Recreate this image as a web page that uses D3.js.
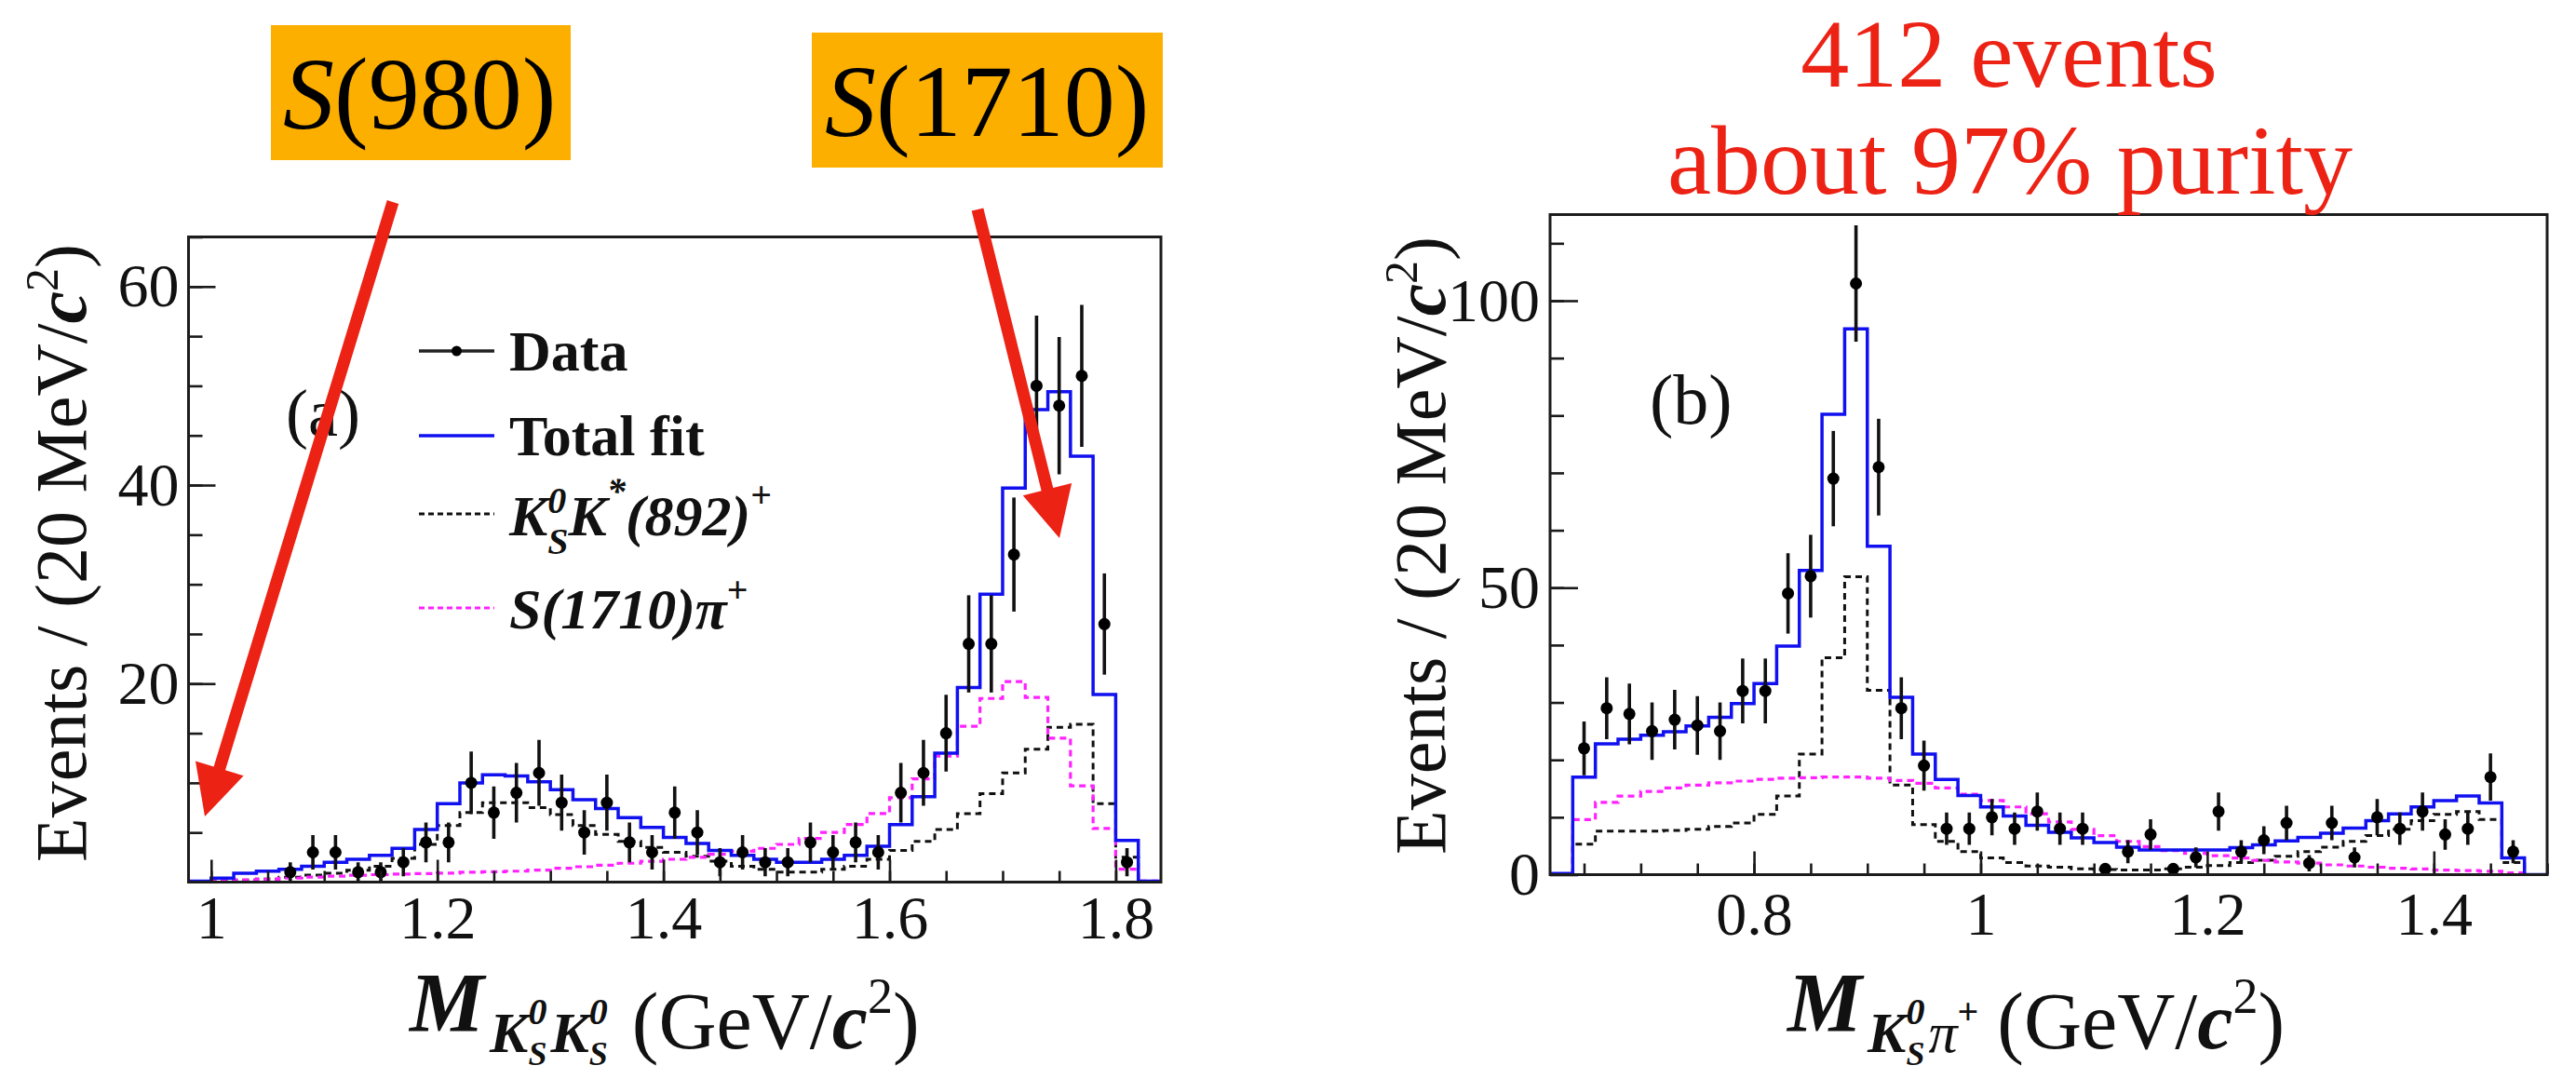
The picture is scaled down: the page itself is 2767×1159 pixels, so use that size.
<!DOCTYPE html>
<html>
<head>
<meta charset="utf-8">
<script src="https://cdn.jsdelivr.net/npm/d3@7"></script>
<style>
  html, body { margin: 0; padding: 0; background: #ffffff; }
  svg { display: block; }
  text { font-family: "Liberation Serif", "Times New Roman", serif; }
</style>
</head>
<body>
<svg id="fig" width="2767" height="1159"></svg>
<script>
// ---------------- (a) M(KS KS), 20 MeV bins from 0.98 GeV/c^2 ----------------
const binWidth = 0.02;
const massRangeA = [0.98, 1.84];
const countsA = [0, 0, 0, 0, 1, 3, 3, 1, 1, 2, 4, 4, 10, 7, 9, 11, 8, 5, 8, 4, 3, 7,
  5, 2, 3, 2, 2, 4, 3, 4, 3, 9, 11, 15, 24, 24, 33, 50, 48, 51, 26, 2, 0];
const totalFitA = [0.1, 0.4, 0.9, 1.1, 1.3, 1.6, 2.0, 2.3, 2.7, 3.4, 5.3, 7.9, 10.0, 10.8,
  10.7, 10.1, 9.3, 8.3, 7.4, 6.5, 5.5, 4.5, 3.9, 3.2, 2.7, 2.3, 2.0, 2.0, 2.3, 2.7, 3.6,
  5.8, 8.6, 13.0, 19.6, 29.0, 39.7, 47.6, 49.4, 42.9, 18.9, 4.2, 0.1];
const kstarFitA = [0.05, 0.1, 0.2, 0.3, 0.5, 0.7, 0.9, 1.2, 1.6, 2.4, 3.8, 5.7, 7.0, 8.0,
  8.0, 7.5, 6.8, 5.7, 4.8, 4.1, 3.5, 3.0, 2.6, 2.1, 1.6, 1.3, 1.0, 1.0, 1.3, 1.6, 2.3,
  3.2, 4.1, 5.3, 6.9, 8.9, 11.0, 13.4, 15.6, 15.9, 7.9, 2.5, 0];
const s1710FitA = [0.05, 0.1, 0.2, 0.3, 0.4, 0.5, 0.6, 0.7, 0.75, 0.8, 0.85, 0.9, 1.0, 1.05,
  1.1, 1.2, 1.4, 1.55, 1.7, 1.9, 2.1, 2.3, 2.5, 2.8, 3.1, 3.4, 3.8, 4.4, 5.0, 5.8, 6.9,
  8.5, 10.4, 12.7, 15.7, 18.5, 20.2, 18.6, 14.5, 9.7, 5.4, 1.3, 0.1];
const xTickLabelsA = [1.0, 1.2, 1.4, 1.6, 1.8];
const yTickLabelsA = [20, 40, 60];
const yRangeA = [0, 65];

// ---------------- (b) M(KS pi+), 20 MeV bins from 0.62 GeV/c^2 ----------------
const massRangeB = [0.62, 1.50];
const countsB = [0, 22, 29, 28, 25, 27, 26, 25, 32, 32, 49, 52, 69, 103, 71, 29, 19, 8, 8,
  10, 8, 11, 8, 8, 1, 4, 7, 1, 3, 11, 4, 6, 9, 2, 9, 3, 10, 8, 11, 7, 8, 17, 4, 0];
const totalFitB = [0.2, 17.0, 22.8, 23.6, 24.3, 24.9, 25.9, 27.4, 29.8, 33.3, 39.8, 53.0,
  80.2, 95.1, 57.2, 30.9, 21.0, 16.6, 13.8, 11.8, 10.2, 8.6, 7.4, 6.4, 5.6, 4.8, 4.3, 4.3,
  4.3, 4.3, 4.7, 5.2, 5.9, 6.5, 7.2, 8.1, 9.4, 10.6, 11.8, 12.9, 13.7, 12.5, 2.9, 0];
const kstarFitB = [0, 5.3, 7.6, 7.6, 7.6, 7.7, 7.9, 8.4, 9.0, 10.5, 13.7, 21.0, 37.8, 51.9,
  32.1, 15.6, 8.7, 5.8, 4.0, 2.9, 2.1, 1.5, 1.3, 1.0, 0.9, 0.8, 0.8, 1.0, 1.3, 1.6, 2.1,
  2.5, 3.2, 4.0, 4.8, 5.8, 6.8, 7.9, 9.4, 10.5, 11.0, 9.6, 2.1, 0];
const s1710FitB = [0, 9.6, 12.6, 13.7, 14.5, 15.1, 15.6, 16.0, 16.3, 16.6, 16.8, 16.9, 17.0,
  17.0, 16.8, 16.4, 15.9, 15.1, 14.0, 12.9, 11.8, 10.6, 9.2, 7.9, 6.8, 5.8, 4.9, 4.2, 3.7,
  3.3, 2.9, 2.5, 2.2, 2.0, 1.7, 1.5, 1.3, 1.1, 1.0, 0.8, 0.7, 0.6, 0.3, 0];
const xTickLabelsB = [0.8, 1.0, 1.2, 1.4];
const yTickLabelsB = [0, 50, 100];
const yRangeB = [0, 115];

// ---------------- annotations ----------------
const legendEntries = ["Data", "Total fit"];
const eventText = ["412 events", "about 97% purity"];

// ---------------- styling ----------------
const BLUE = "#1010f0", MAGENTA = "#ff22ff", RED = "#ec2215", ORANGE = "#fdaf00";

const svg = d3.select("#fig");
svg.append("rect").attr("width", 2767).attr("height", 1159).attr("fill", "#fff");

function drawPanel(cfg) {
  const x = d3.scaleLinear().domain(cfg.xDomain).range([cfg.left, cfg.right]);
  const y = d3.scaleLinear().domain(cfg.yDomain).range([cfg.bottom, cfg.top]);
  const g = svg.append("g");
  const clipId = "clip" + cfg.id;
  svg.append("clipPath").attr("id", clipId).append("rect")
    .attr("x", cfg.left).attr("y", cfg.top)
    .attr("width", cfg.right - cfg.left).attr("height", cfg.bottom - cfg.top);

  const nBins = cfg.counts.length;
  const edges = d3.range(nBins + 1).map(i => cfg.xDomain[0] + i * binWidth);
  const centers = d3.range(nBins).map(i => cfg.xDomain[0] + (i + 0.5) * binWidth);

  const stepLine = d3.line().x(d => x(d[0])).y(d => y(d[1])).curve(d3.curveStepAfter);
  function histPoints(vals) {
    const pts = [[edges[0], 0]];
    vals.forEach((v, i) => pts.push([edges[i], v]));
    pts.push([edges[nBins], vals[nBins - 1]]);
    pts.push([edges[nBins], 0]);
    return pts;
  }
  const plot = g.append("g").attr("clip-path", `url(#${clipId})`);

  // fit components
  plot.append("path").attr("d", stepLine(histPoints(cfg.kstar)))
    .attr("fill", "none").attr("stroke", "#111").attr("stroke-width", 3)
    .attr("stroke-dasharray", "7,5");
  plot.append("path").attr("d", stepLine(histPoints(cfg.s1710)))
    .attr("fill", "none").attr("stroke", MAGENTA).attr("stroke-width", 3.2)
    .attr("stroke-dasharray", "7,5");
  plot.append("path").attr("d", stepLine(histPoints(cfg.total)))
    .attr("fill", "none").attr("stroke", BLUE).attr("stroke-width", 3.5);

  // data points with Poisson errors
  const pts = cfg.counts.map((n, i) => ({ m: centers[i], n })).filter(d => d.n > 0);
  plot.selectAll(".err").data(pts).join("line")
    .attr("x1", d => x(d.m)).attr("x2", d => x(d.m))
    .attr("y1", d => y(d.n + Math.sqrt(d.n))).attr("y2", d => y(d.n - Math.sqrt(d.n)))
    .attr("stroke", "#111").attr("stroke-width", 3.6);
  plot.selectAll(".pt").data(pts).join("circle")
    .attr("cx", d => x(d.m)).attr("cy", d => y(d.n)).attr("r", 6.5).attr("fill", "#000");

  // axes (ticks drawn inward)
  const fmt = d => (Number.isInteger(d) ? d3.format("d")(d) : d3.format(".1f")(d));
  const xMajor = d3.axisBottom(x).tickValues(cfg.xTicks).tickSize(-cfg.xMajorLen)
    .tickPadding(cfg.xPad).tickFormat(fmt);
  const xMinor = d3.axisBottom(x).tickValues(cfg.xMinorTicks).tickSize(-cfg.xMinorLen).tickFormat("");
  const yMajor = d3.axisLeft(y).tickValues(cfg.yTicks).tickSize(-cfg.yMajorLen)
    .tickPadding(cfg.yPad).tickFormat(d3.format("d"));
  const yMinor = d3.axisLeft(y).tickValues(cfg.yMinorTicks).tickSize(-cfg.yMinorLen).tickFormat("");

  [
    [xMinor, `translate(0,${cfg.bottom})`],
    [xMajor, `translate(0,${cfg.bottom})`],
    [yMinor, `translate(${cfg.left},0)`],
    [yMajor, `translate(${cfg.left},0)`]
  ].forEach(([ax, tr]) => {
    const a = g.append("g").attr("transform", tr).call(ax);
    a.select(".domain").remove();
    a.selectAll("line").attr("stroke", "#1a1a1a").attr("stroke-width", 2.6);
    a.selectAll("text").attr("font-size", 66).attr("fill", "#111")
      .style("font-family", '"Liberation Serif","Times New Roman",serif');
  });

  // frame
  g.append("rect").attr("x", cfg.left).attr("y", cfg.top)
    .attr("width", cfg.right - cfg.left).attr("height", cfg.bottom - cfg.top)
    .attr("fill", "none").attr("stroke", "#1c1c1c").attr("stroke-width", 3);

  // y title
  const yt = g.append("text")
    .attr("transform", `translate(${cfg.yTitleX},${cfg.yTitleY}) rotate(-90)`)
    .attr("text-anchor", "middle").attr("font-size", 78).attr("fill", "#111");
  yt.append("tspan").text("Events / (20 MeV/");
  yt.append("tspan").attr("font-weight", "bold").attr("font-style", "italic").text("c");
  yt.append("tspan").attr("font-size", 50).attr("dy", -30).text("2");
  yt.append("tspan").attr("dy", 30).text(")");

  // panel tag
  g.append("text").attr("x", cfg.tagX).attr("y", cfg.tagY)
    .attr("font-size", cfg.tagSize).attr("fill", "#111").text(cfg.tag);
  return { x, y, g };
}

function richText(parent, x0, y0, parts, fill) {
  const t = parent.append("text").attr("x", x0).attr("y", y0).attr("fill", fill || "#111");
  parts.forEach(p => {
    const s = t.append("tspan").text(p.t).attr("font-size", p.size);
    if (p.b) s.attr("font-weight", "bold");
    if (p.i) s.attr("font-style", "italic");
    if (p.dx) s.attr("dx", p.dx);
    if (p.dy) s.attr("dy", p.dy);
  });
  return t;
}

drawPanel({
  id: "A", left: 202.5, right: 1247, top: 254.5, bottom: 947.5,
  xDomain: massRangeA, yDomain: yRangeA,
  counts: countsA, total: totalFitA, kstar: kstarFitA, s1710: s1710FitA,
  xTicks: xTickLabelsA, xMinorTicks: d3.range(1.0, 1.84, 0.05),
  yTicks: yTickLabelsA, yMinorTicks: d3.range(5, 65.1, 5),
  xMajorLen: 24, xMinorLen: 12, yMajorLen: 29, yMinorLen: 15, xPad: 14, yPad: 10,
  yTitleX: 92, yTitleY: 594, tag: "(a)", tagX: 307, tagY: 468, tagSize: 72
});

drawPanel({
  id: "B", left: 1665, right: 2736, top: 230.5, bottom: 939.5,
  xDomain: massRangeB, yDomain: yRangeB,
  counts: countsB, total: totalFitB, kstar: kstarFitB, s1710: s1710FitB,
  xTicks: xTickLabelsB, xMinorTicks: d3.range(0.65, 1.501, 0.05),
  yTicks: yTickLabelsB, yMinorTicks: d3.range(10, 115, 10),
  xMajorLen: 25, xMinorLen: 12, yMajorLen: 30, yMinorLen: 15, xPad: 18, yPad: 11,
  yTitleX: 1552, yTitleY: 586, tag: "(b)", tagX: 1772, tagY: 455, tagSize: 76
});

// x titles
richText(svg, 440, 1108, [
  { t: "M", size: 90, b: 1, i: 1 },
  { t: "K", size: 62, b: 1, i: 1, dx: 6, dy: 22 },
  { t: "0", size: 40, b: 1, i: 1, dy: -30 },
  { t: "S", size: 36, b: 1, i: 1, dx: -20, dy: 44 },
  { t: "K", size: 62, b: 1, i: 1, dx: 4, dy: -14 },
  { t: "0", size: 40, b: 1, i: 1, dy: -30 },
  { t: "S", size: 36, b: 1, i: 1, dx: -20, dy: 44 },
  { t: "(GeV/", size: 86, dx: 26, dy: -18 },
  { t: "c", size: 86, b: 1, i: 1 },
  { t: "2", size: 54, dy: -38 },
  { t: ")", size: 86, dy: 38 }
]);
richText(svg, 1920, 1108, [
  { t: "M", size: 90, b: 1, i: 1 },
  { t: "K", size: 62, b: 1, i: 1, dx: 6, dy: 22 },
  { t: "0", size: 40, b: 1, i: 1, dy: -30 },
  { t: "S", size: 36, b: 1, i: 1, dx: -20, dy: 44 },
  { t: "π", size: 62, i: 1, dx: 4, dy: -14 },
  { t: "+", size: 40, b: 1, dy: -30 },
  { t: "(GeV/", size: 86, dx: 20, dy: 26 },
  { t: "c", size: 86, b: 1, i: 1 },
  { t: "2", size: 54, dy: -38 },
  { t: ")", size: 86, dy: 38 }
]);

// legend in panel (a)
const leg = svg.append("g");
const lx0 = 450, lx1 = 531, ltx = 547;
leg.append("line").attr("x1", lx0).attr("x2", lx1).attr("y1", 377).attr("y2", 377)
  .attr("stroke", "#222").attr("stroke-width", 3.5);
leg.append("circle").attr("cx", (lx0 + lx1) / 2).attr("cy", 377).attr("r", 5.5).attr("fill", "#000");
leg.append("line").attr("x1", lx0).attr("x2", lx1).attr("y1", 468).attr("y2", 468)
  .attr("stroke", BLUE).attr("stroke-width", 3.5);
leg.append("line").attr("x1", lx0).attr("x2", lx1).attr("y1", 552).attr("y2", 552)
  .attr("stroke", "#111").attr("stroke-width", 2.8).attr("stroke-dasharray", "6,4");
leg.append("line").attr("x1", lx0).attr("x2", lx1).attr("y1", 653).attr("y2", 653)
  .attr("stroke", MAGENTA).attr("stroke-width", 3).attr("stroke-dasharray", "6,4");
richText(leg, ltx, 398, [{ t: legendEntries[0], size: 62, b: 1 }]);
richText(leg, ltx, 489, [{ t: legendEntries[1], size: 62, b: 1 }]);
richText(leg, ltx, 575, [
  { t: "K", size: 62, b: 1, i: 1 },
  { t: "0", size: 40, b: 1, i: 1, dy: -24 },
  { t: "S", size: 40, b: 1, i: 1, dx: -20, dy: 44 },
  { t: "K", size: 62, b: 1, i: 1, dy: -20 },
  { t: "*", size: 40, b: 1, i: 1, dy: -34 },
  { t: "(892)", size: 62, b: 1, i: 1, dy: 34 },
  { t: "+", size: 40, b: 1, dy: -30 }
]);
richText(leg, ltx, 675, [
  { t: "S(1710)", size: 62, b: 1, i: 1 },
  { t: "π", size: 62, b: 1, i: 1 },
  { t: "+", size: 40, b: 1, dy: -28 }
]);

// labelled boxes above panel (a)
const boxes = [
  { name: "980", x: 291, y: 27, w: 322, h: 145, tx: 304, ty: 138 },
  { name: "1710", x: 872, y: 35, w: 377, h: 145, tx: 886, ty: 146 }
];
boxes.forEach(b => {
  svg.append("rect").attr("x", b.x).attr("y", b.y).attr("width", b.w).attr("height", b.h)
    .attr("fill", ORANGE);
  richText(svg, b.tx, b.ty, [
    { t: "S", size: 110, i: 1 },
    { t: `(${b.name})`, size: 110 }
  ], "#000");
});

// red summary text above panel (b)
svg.append("text").attr("x", 2158).attr("y", 93).attr("text-anchor", "middle")
  .attr("font-size", 104).attr("fill", RED).text(eventText[0]);
svg.append("text").attr("x", 2159).attr("y", 208).attr("text-anchor", "middle")
  .attr("font-size", 106).attr("fill", RED).text(eventText[1]);

// red arrows pointing to the two mass regions
function arrow(x0, y0, x1, y1) {
  const dx = x1 - x0, dy = y1 - y0, L = Math.hypot(dx, dy);
  const ux = dx / L, uy = dy / L, px = -uy, py = ux;
  const hw = 6.5, headW = 27, headL = 54;
  const bx = x1 - ux * headL, by = y1 - uy * headL;
  const p = [
    [x0 + px * hw, y0 + py * hw], [bx + px * hw, by + py * hw],
    [bx + px * headW, by + py * headW], [x1, y1],
    [bx - px * headW, by - py * headW], [bx - px * hw, by - py * hw],
    [x0 - px * hw, y0 - py * hw]
  ];
  svg.append("polygon").attr("points", p.map(q => q.join(",")).join(" ")).attr("fill", RED);
}
arrow(422, 217, 220, 877);
arrow(1050, 225, 1138, 578);
</script>
</body>
</html>
